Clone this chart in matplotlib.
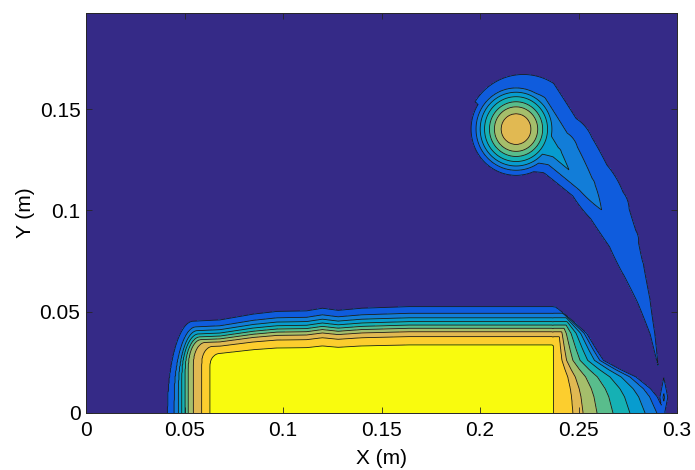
import numpy as np
import matplotlib
matplotlib.use("Agg")
import matplotlib.pyplot as plt
from matplotlib.ticker import FixedLocator, FixedFormatter

# ---------------- values ----------------
x_extent = 0.3
y_extent = 0.1974
contour_levels = [1, 2, 3, 4, 5, 6, 7, 8, 9]

x_ticks = [0, 0.05, 0.1, 0.15, 0.2, 0.25, 0.3]
x_tick_labels = ["0", "0.05", "0.1", "0.15", "0.2", "0.25", "0.3"]
y_ticks = [0, 0.05, 0.1, 0.15]
y_tick_labels = ["0", "0.05", "0.1", "0.15"]

# bottom slab: per contour level 1..9
slab_left_x = [0.0413, 0.0447, 0.0469, 0.0486, 0.0503, 0.0519, 0.0545, 0.0587, 0.0629]
slab_top_y = [0.0525, 0.0492, 0.0470, 0.0451, 0.0434, 0.0418, 0.0401, 0.0377, 0.0336]
slab_left_rx = [0.013, 0.011, 0.0095, 0.0085, 0.0075, 0.0065, 0.006, 0.0055, 0.005]
slab_left_ry = [1.0, 0.85, 0.7, 0.55, 0.45, 0.38, 0.3, 0.25, 0.2]
slab_right_x = 0.2376
slab_top_scale_x = [0.04, 0.068, 0.085, 0.097, 0.112, 0.12, 0.128, 0.14, 0.164, 0.23, 0.26]
slab_top_scale = [0.85, 0.875, 0.93, 0.955, 0.96, 0.985, 0.965, 0.985, 1.0, 1.0, 1.0]

# runout along the floor on the right: floor crossing x of levels 9..1
floor_x = [0.2371, 0.2472, 0.2523, 0.2594, 0.2675, 0.2761, 0.2838, 0.2898, 0.2939, 0.300]
floor_level = [9, 8, 7, 6, 5, 4, 3, 2, 1, 0]
# how much the fan of contours narrows with height
fan_y = [0, 0.008, 0.012, 0.0178, 0.0215, 0.026, 0.031, 0.0393, 0.0467, 0.0525]
fan_w = [1.0, 0.93, 0.87, 0.74, 0.6, 0.45, 0.39, 0.30, 0.15, 0.02]

# small spike near the right end of the floor
spike_x, spike_y, spike_peak = 0.2933, 0.0077, 2.256
spike_sx, spike_sy = 0.0016, 0.0078

# detached blob
blob_center_x = 0.2183
blob_center_y = 0.1401
blob_radius = [0.0, 0.0076, 0.011, 0.0135, 0.016, 0.0182, 0.0203, 0.0228, 0.026]
blob_level = [7.8, 7, 6, 5, 4, 3, 2, 1, 0]

# trailing plume (ridge line, value on ridge, spread on inner / outer side)
plume_x = [0.222, 0.238, 0.2525, 0.2617, 0.271, 0.2775, 0.283, 0.2875, 0.2905, 0.292]
plume_y = [0.138, 0.128, 0.1117, 0.1002, 0.085, 0.0722, 0.0558, 0.0393, 0.0228, 0.012]
plume_v = [4.5, 3.4, 2.6, 2.0, 1.75, 1.55, 1.35, 1.15, 1.0, 0.7]
plume_sig_in = [0.0063, 0.0046, 0.0044, 0.007, 0.008, 0.011, 0.0094, 0.008, 0.008, 0.008]
plume_sig_out = [0.0083, 0.0085, 0.010, 0.014, 0.0127, 0.0102, 0.0094, 0.008, 0.008, 0.008]

# parula samples for the 10 bands
band_colors = [
    (0.2081, 0.1663, 0.5292), (0.0591, 0.3598, 0.8683), (0.0723, 0.4887, 0.8467),
    (0.0265, 0.6137, 0.8135), (0.0843, 0.6928, 0.7062), (0.3482, 0.7424, 0.5473),
    (0.6473, 0.7456, 0.4188), (0.8824, 0.7274, 0.3217), (0.9880, 0.8066, 0.1794),
    (0.9763, 0.9831, 0.0538),
]

# ---------------- build field ----------------
xg = np.linspace(0, x_extent, 901)
yg = np.linspace(0, y_extent, 601)
X, Y = np.meshgrid(xg, yg)
EPS = 0.00018


def sig(z):
    return 0.5 * (1.0 + np.tanh(z / (2 * EPS)))


def slab_field():
    m = np.interp(X, slab_top_scale_x, slab_top_scale)
    G = np.full(X.shape, 0.5)
    for k in range(len(contour_levels)):
        yT = slab_top_y[k] * m
        xl = slab_left_x[k]
        rxl, ryl = slab_left_rx[k], slab_left_ry[k] * yT
        u = np.clip((xl + rxl - X) / rxl, 0, 1)
        H = yT - ryl + ryl * np.sqrt(np.clip(1 - u ** 2, 0, 1))
        G += sig(H - Y) * sig(X - xl) * sig(slab_right_x - X)
    return G


def fan_field():
    c0 = floor_x[0]
    w = np.maximum(np.interp(Y, fan_y, fan_w, right=0.0), 1e-4)
    A = np.interp(c0 + (X - c0) / w, floor_x, floor_level, left=9, right=0)
    top_y = [0.0] + slab_top_y[::-1] + [slab_top_y[0] + 0.004]
    top_lv = [9.5] + contour_levels[::-1] + [0]
    T = np.interp(Y, top_y, top_lv)
    return np.where(X >= c0, np.minimum(A, T), 0.0)


def spike_field():
    return spike_peak - np.abs(X - spike_x) / spike_sx - np.abs(Y - spike_y) / spike_sy


def blob_field():
    r = np.hypot(X - blob_center_x, Y - blob_center_y)
    return np.interp(r, blob_radius, blob_level)


def plume_field():
    F = np.full(X.shape, -10.0)
    for i in range(len(plume_x) - 1):
        ax0, ay0 = plume_x[i], plume_y[i]
        sx, sy = plume_x[i + 1] - ax0, plume_y[i + 1] - ay0
        L2 = sx * sx + sy * sy
        t = np.clip(((X - ax0) * sx + (Y - ay0) * sy) / L2, 0, 1)
        d = np.hypot(X - (ax0 + t * sx), Y - (ay0 + t * sy))
        cross = sx * (Y - ay0) - sy * (X - ax0)
        v = plume_v[i] + t * (plume_v[i + 1] - plume_v[i])
        si = plume_sig_in[i] + t * (plume_sig_in[i + 1] - plume_sig_in[i])
        so = plume_sig_out[i] + t * (plume_sig_out[i + 1] - plume_sig_out[i])
        s = np.where(cross > 0, so, si)
        F = np.maximum(F, v - d / s)
    return F


Z = np.maximum.reduce([slab_field(), fan_field(), spike_field(), blob_field(), plume_field()])

# ---------------- draw ----------------
plt.rcParams['font.family'] = ['Liberation Sans', 'DejaVu Sans']
fig = plt.figure(figsize=(6.95, 4.70), dpi=100)
ax = fig.add_axes([86 / 695, 57 / 470, 591 / 695, 400 / 470])

fill_levels = [-100] + contour_levels + [100]
ax.contourf(X, Y, Z, levels=fill_levels, colors=band_colors)
ax.contour(X, Y, Z, levels=contour_levels, colors=[(0.1, 0.1, 0.1)], linewidths=0.6)

ax.set_xlim(0, x_extent)
ax.set_ylim(0, y_extent)
ax.xaxis.set_major_locator(FixedLocator(x_ticks))
ax.xaxis.set_major_formatter(FixedFormatter(x_tick_labels))
ax.yaxis.set_major_locator(FixedLocator(y_ticks))
ax.yaxis.set_major_formatter(FixedFormatter(y_tick_labels))
ax.tick_params(direction='in', length=4, width=0.6, top=True, right=True,
               labelsize=15, colors=(0.15, 0.15, 0.15), labelcolor='black')
ax.tick_params(axis='x', pad=6)
ax.tick_params(axis='y', pad=4)
for sp in ax.spines.values():
    sp.set_color((0.15, 0.15, 0.15))
    sp.set_linewidth(0.7)

ax.set_xlabel('X (m)', fontsize=15)
ax.set_ylabel('Y (m)', fontsize=15)
ax.xaxis.set_label_coords(0.5, -0.09)
ax.yaxis.set_label_coords(-0.087, 0.5)

fig.savefig('out.png', dpi=100)
